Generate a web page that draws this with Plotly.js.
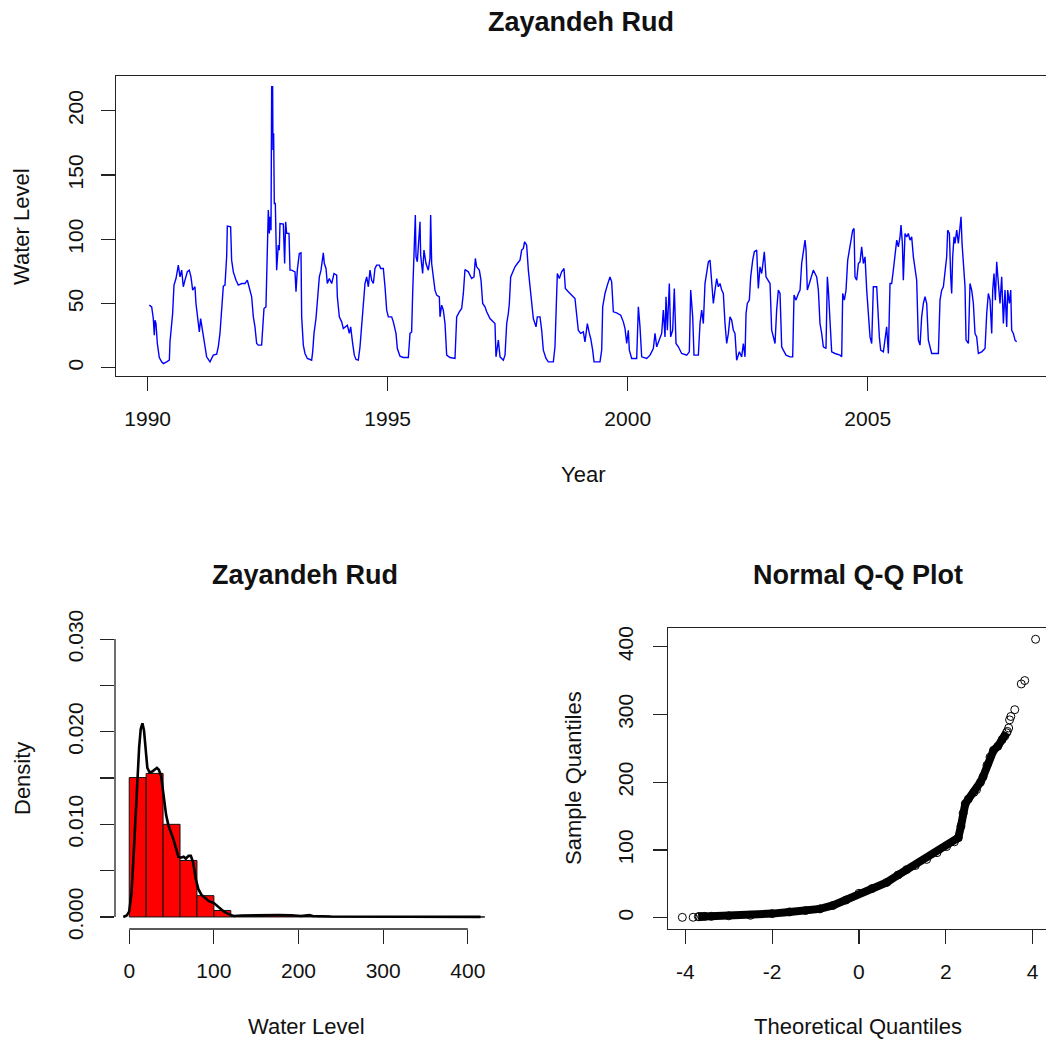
<!DOCTYPE html>
<html>
<head>
<meta charset="utf-8">
<script src="https://cdn.plot.ly/plotly-3.0.1.min.js"></script>
<style>html,body{margin:0;padding:0;background:#fff;}#chart{width:1046px;height:1041px;}</style>
</head>
<body>
<div id="chart"></div>
<script>
// ---------- Time series ----------
const tsYear = [
1990.034,1990.083,1990.117,1990.138,1990.152,1990.173,1990.201,1990.242,1990.291,1990.326,1990.395,1990.451,1990.465,1990.499,1990.520,1990.548,1990.590,1990.638,1990.673,1990.708,1990.742,1990.777,1990.826,1990.867,1990.902,1990.937,1990.985,
1991.006,1991.034,1991.076,1991.103,1991.145,1991.194,1991.228,1991.298,1991.367,1991.437,1991.471,1991.506,1991.541,1991.576,1991.610,1991.645,1991.659,1991.728,1991.749,1991.784,1991.840,1991.888,1991.958,
1992.027,1992.076,1992.117,1992.166,1992.201,1992.235,1992.270,1992.305,1992.374,1992.395,1992.423,1992.464,1992.478,1992.513,1992.534,1992.548,1992.569,1992.583,1992.603,1992.610,1992.624,1992.638,1992.659,1992.673,1992.687,1992.721,1992.742,1992.756,1992.826,1992.853,1992.874,1992.895,1992.944,1992.965,1992.999,
1993.069,1993.090,1993.117,1993.159,1993.194,1993.208,1993.242,1993.277,1993.326,1993.416,1993.437,1993.465,1993.506,1993.541,1993.576,1993.611,1993.659,1993.680,1993.715,1993.742,1993.784,1993.833,1993.881,1993.937,1993.951,1993.992,
1994.041,1994.076,1994.110,1994.159,1994.201,1994.229,1994.270,1994.305,1994.340,1994.388,1994.423,1994.458,1994.506,1994.527,1994.562,1994.597,1994.631,1994.666,1994.701,1994.735,1994.770,1994.826,1994.854,1994.909,1994.944,1994.979,
1995.013,1995.083,1995.117,1995.173,1995.201,1995.256,1995.326,1995.430,1995.465,1995.499,1995.520,1995.548,1995.576,1995.590,1995.617,1995.673,1995.687,1995.728,1995.756,1995.798,1995.846,1995.881,1995.895,1995.916,1995.951,1995.985,
1996.020,1996.076,1996.090,1996.124,1996.159,1996.194,1996.229,1996.298,1996.402,1996.437,1996.492,1996.541,1996.576,1996.610,1996.680,1996.749,1996.798,1996.826,1996.853,1996.909,1996.944,1996.979,
1997.027,1997.062,1997.131,1997.187,1997.235,1997.256,1997.305,1997.340,1997.409,1997.444,1997.479,1997.513,1997.534,1997.562,1997.617,1997.652,1997.701,1997.756,1997.791,1997.826,1997.853,1997.895,1997.930,1997.965,
1998.000,1998.034,1998.090,1998.117,1998.173,1998.208,1998.242,1998.298,1998.346,1998.451,1998.485,1998.506,1998.534,1998.576,1998.624,1998.673,1998.701,1998.763,1998.867,1998.902,1998.923,1998.971,
1999.020,1999.076,1999.110,1999.159,1999.201,1999.229,1999.270,1999.298,1999.423,1999.458,1999.479,1999.527,1999.576,1999.631,1999.666,1999.701,1999.770,1999.854,1999.909,1999.944,1999.979,
2000.013,2000.034,2000.083,2000.187,2000.222,2000.256,2000.291,2000.395,2000.465,2000.534,2000.569,2000.604,2000.659,2000.708,2000.742,2000.777,2000.798,2000.826,2000.867,2000.895,2000.937,2000.971,
2001.006,2001.055,2001.124,2001.229,2001.284,2001.312,2001.354,2001.381,2001.472,2001.506,2001.541,2001.576,2001.610,2001.645,2001.680,2001.715,2001.749,2001.784,2001.819,2001.854,2001.888,2001.923,2001.958,2001.992,
2002.027,2002.062,2002.097,2002.131,2002.166,2002.201,2002.235,2002.270,2002.326,2002.374,2002.409,2002.444,2002.465,2002.492,2002.534,2002.562,2002.604,2002.638,2002.687,2002.721,2002.756,2002.791,2002.826,2002.846,2002.881,2002.930,2002.965,2002.999,
2003.034,2003.069,2003.103,2003.138,2003.173,2003.208,2003.242,2003.298,2003.381,2003.437,2003.465,2003.506,2003.555,2003.590,2003.624,2003.659,2003.694,2003.715,2003.742,2003.784,2003.833,2003.867,2003.902,2003.937,2003.972,
2004.006,2004.041,2004.076,2004.131,2004.159,2004.180,2004.215,2004.249,2004.319,2004.423,2004.458,2004.479,2004.513,2004.548,2004.583,2004.617,2004.652,2004.687,2004.715,2004.735,2004.770,2004.805,2004.840,2004.874,2004.909,2004.944,2004.979,
2005.013,2005.048,2005.083,2005.117,2005.187,2005.222,2005.242,2005.270,2005.326,2005.395,2005.430,2005.465,2005.499,2005.534,2005.569,2005.604,2005.638,2005.673,2005.694,2005.722,2005.742,2005.777,2005.812,2005.846,2005.881,2005.916,2005.951,2005.985,
2006.020,2006.055,2006.090,2006.124,2006.159,2006.194,2006.229,2006.263,2006.298,2006.333,2006.402,2006.472,2006.506,2006.541,2006.576,2006.610,2006.645,2006.666,2006.701,2006.729,2006.749,2006.770,2006.798,2006.819,2006.854,2006.888,2006.923,2006.944,2006.965,2006.992,
2007.027,2007.048,2007.097,2007.131,2007.166,2007.201,2007.235,2007.270,2007.305,2007.374,2007.444,2007.479,2007.513,2007.548,2007.583,2007.604,2007.631,2007.659,2007.687,2007.722,2007.756,2007.791,2007.826,2007.860,2007.895,2007.916,2007.951,2007.979,2007.999,
2008.034,2008.069,2008.103
];
const tsLevel = [
48.8,47.5,38.4,25.4,37.1,34.5,19.0,8.1,4.7,3.4,4.7,6.0,20.3,34.5,42.3,64.4,69.5,79.9,70.8,76.0,63.1,68.3,74.8,76.0,70.8,60.5,63.1,
50.1,39.7,28.0,38.4,29.3,17.7,8.6,4.7,9.9,10.7,16.4,26.8,44.9,63.6,64.4,86.4,110.3,109.7,83.8,74.7,68.2,64.4,65.6,
65.6,68.2,63.1,55.3,39.7,31.9,19.0,17.7,17.7,28.0,46.2,47.5,77.3,122.7,104.6,117.5,107.1,218.7,218.7,169.4,182.4,127.9,127.9,101.9,76.0,95.5,91.6,112.3,111.8,81.2,113.6,104.6,104.6,76.0,76.0,
74.7,59.2,76.0,89.0,89.5,39.7,17.7,11.2,7.3,6.0,12.5,26.8,38.4,52.7,70.8,76.0,89.5,81.2,77.3,65.6,69.5,65.6,73.4,72.1,55.3,39.7,
35.8,30.6,31.9,33.2,26.8,31.9,19.0,9.9,6.5,6.0,16.4,33.2,59.2,65.6,70.8,63.1,76.0,68.2,65.6,77.3,79.9,79.9,77.3,77.3,63.1,44.9,
39.7,39.7,35.8,26.8,15.1,9.1,8.1,8.1,26.8,28.0,57.9,83.8,118.8,86.4,82.5,113.6,87.7,73.4,91.6,81.2,76.0,85.1,118.8,81.2,68.2,60.5,
56.6,55.3,39.7,48.8,44.9,34.5,9.9,8.1,7.3,39.7,43.6,46.2,57.9,76.5,74.7,69.5,70.8,85.1,78.6,76.0,68.2,50.1,
47.5,43.6,38.4,35.8,34.5,8.6,21.6,8.6,6.0,9.9,34.5,42.3,50.1,70.8,76.0,78.6,81.2,83.8,91.6,92.9,98.1,95.5,76.0,63.1,
47.5,38.4,31.9,39.7,39.7,29.3,13.8,7.3,4.7,4.7,16.4,37.1,73.4,69.5,74.7,77.3,61.8,59.2,55.3,54.0,46.2,29.3,
26.8,28.0,20.3,34.5,26.8,22.9,13.8,4.7,4.7,13.8,47.5,57.9,64.4,70.8,66.9,43.6,42.8,41.0,35.8,30.6,19.0,
29.3,13.8,7.3,7.3,47.5,31.9,8.6,7.3,9.9,15.1,26.8,16.4,21.6,26.8,44.9,24.1,55.3,29.3,65.6,24.1,29.3,61.8,
19.0,16.4,11.2,9.9,12.5,60.5,39.7,9.9,9.9,34.5,44.9,34.5,65.6,76.0,82.5,83.8,65.6,50.1,60.5,69.5,63.1,65.6,60.5,57.9,
34.5,19.0,26.8,39.7,37.1,29.3,26.8,6.0,12.5,8.6,19.0,8.6,42.3,50.1,52.7,70.8,83.8,90.3,91.6,61.8,78.6,73.4,83.8,90.3,70.8,68.2,65.6,29.3,
24.1,19.0,44.9,60.5,57.9,16.4,13.8,9.9,8.6,8.6,56.6,52.7,57.9,60.5,81.2,91.6,99.4,91.6,60.5,65.6,70.8,76.0,73.4,70.8,60.5,
34.5,26.8,16.4,15.1,70.8,60.5,34.5,12.5,11.2,9.9,8.6,57.9,52.7,60.5,83.8,91.6,101.9,107.1,108.4,70.8,68.2,81.2,82.5,94.2,81.2,86.4,60.5,
39.7,24.1,19.0,63.1,63.1,37.1,24.1,13.8,12.5,31.9,11.2,65.6,65.6,76.0,86.4,99.4,94.2,101.9,111.0,96.8,68.2,104.5,101.9,104.5,99.4,101.9,86.4,76.0,
68.2,21.6,17.7,39.7,50.1,55.3,50.1,21.6,16.4,11.2,11.2,11.2,52.7,60.5,63.1,76.0,86.4,107.1,104.5,70.8,57.9,86.4,101.9,96.8,107.1,96.8,107.1,117.5,96.8,81.2,
63.1,21.6,19.0,65.6,60.5,50.1,26.8,24.1,11.2,12.5,15.1,42.3,57.9,52.7,26.8,60.5,73.4,52.7,82.5,65.6,50.1,70.8,34.5,60.5,31.9,60.5,50.1,60.5,29.3,
26.8,21.6,20.3
];
const tsYearTicks = [1990, 1995, 2000, 2005];
const tsLevelTicks = [0, 50, 100, 150, 200];

// ---------- Histogram (density scale) ----------
const histBinStart = [0,20,40,60,80,100,120,140,160,180,200,220,240,260,280,300,320,340,360,380,400];
const histBinWidth = 20;
const histDensity = [0.01505,0.0155,0.0100,0.0061,0.0023,0.0007,0.00008,0.00008,0.00015,0.0001,0.00008,0.00006,0.00003,0.00002,0.00001,0.00001,0.000005,0.000005,0.000005,0.000002,0.000002];
const densX = [-7,-3,0,2.7,5.4,7.8,9.7,11.7,13.6,15.6,17.5,19.5,21.4,24.1,27.2,29.9,32.7,35,37.7,40.5,43.6,46.3,49.4,52.5,55.3,58,61.1,64.2,66.9,70,72.8,75.5,78.6,81.7,85.2,89.5,94.2,100,105.8,111.7,117.5,123.3,133,144.7,160.3,175.9,191.4,203,212.8,216.7,238,277,316,355,415];
const densY = [0,0.00015,0.0006,0.0026,0.0070,0.0114,0.0150,0.0183,0.0203,0.0209,0.0201,0.0183,0.0161,0.0156,0.0157,0.0159,0.0161,0.0159,0.0152,0.0132,0.0110,0.0099,0.0092,0.0083,0.0074,0.0065,0.0064,0.0065,0.0063,0.0066,0.0066,0.0059,0.0041,0.0030,0.0024,0.0021,0.0017,0.0015,0.0010,0.0006,0.0003,0.0001,0.00015,0.00018,0.00018,0.0002,0.00018,0.0001,0.0002,0.0001,0.00005,0.00003,0.00002,0.00001,0.00001];
const histXTicks = [0, 100, 200, 300, 400];
const histYTicks = [0, 0.005, 0.010, 0.015, 0.020, 0.025, 0.030];
const histYTickText = ['0.000', '', '0.010', '', '0.020', '', '0.030'];

// ---------- Normal Q-Q ----------
const qqBandTheo = [-3.7,-3.4,-3.0,-2.5,-2.0,-1.6,-1.23,-0.9,-0.6,-0.3,0.0,0.3,0.64,0.9,1.1,1.3,1.56,1.8,2.02,2.2,2.29,2.35,2.4,2.45,2.52,2.65,2.71,2.8,2.86,2.95,3.02,3.1,3.2,3.3,3.4];
const qqBandSample = [1.5,2,2.8,3.5,6.0,8.5,10.5,13,18,26,36,43,52,63,71,77,86,96,105,112,118,135,154,168,175,185,189,200,208,225,237,247,253,263,273];
const qqTailTheo = [-4.07,-3.82,-3.68,-3.62,-3.55,3.36,3.42,3.45,3.47,3.5,3.59,3.74,3.82,4.07];
const qqTailSample = [0.5,0.6,1.5,1.8,2.0,268,275,280,292,297,307,345,350,411];
const qqXTicks = [-4, -2, 0, 2, 4];
const qqXTickText = ['-4', '-2', '0', '2', '4'];
const qqYTicks = [0, 100, 200, 300, 400];

// ---------- Layout helpers ----------
const W = 1046, H = 1041;
const px = v => v / W;
const py = v => 1 - v / H;
const FONT = 'Liberation Sans, Arial, sans-serif';
const axisCol = '#222';
const tickFont = {family: FONT, size: 21, color: '#111'};

const histCenters = histBinStart.map(s => s + histBinWidth / 2);

const traces = [
  {type: 'scatter', mode: 'lines', x: tsYear, y: tsLevel, xaxis: 'x', yaxis: 'y',
   line: {color: '#0000ff', width: 1.4}, hoverinfo: 'skip'},
  {type: 'bar', x: histCenters, y: histDensity, width: histBinWidth, xaxis: 'x2', yaxis: 'y2',
   marker: {color: '#ff0000', line: {color: '#111', width: 1}}, hoverinfo: 'skip'},
  {type: 'scatter', mode: 'lines', x: densX, y: densY, xaxis: 'x2', yaxis: 'y2',
   line: {color: '#000', width: 2.6}, hoverinfo: 'skip'},
  {type: 'scatter', mode: 'lines+markers', x: qqBandTheo, y: qqBandSample, xaxis: 'x3', yaxis: 'y3',
   line: {color: '#000', width: 8}, marker: {symbol: 'circle-open', size: 8, color: '#000', line: {width: 1}}, hoverinfo: 'skip'},
  {type: 'scatter', mode: 'markers', x: qqTailTheo, y: qqTailSample, xaxis: 'x3', yaxis: 'y3',
   marker: {symbol: 'circle-open', size: 8, color: '#000', line: {width: 1}}, hoverinfo: 'skip'}
];

const commonAxis = {
  showgrid: false, zeroline: false, ticks: 'outside', ticklen: 14, tickwidth: 1.2,
  tickcolor: axisCol, linecolor: axisCol, linewidth: 1.3, tickfont: tickFont, fixedrange: true
};

const yDomTop = [py(376), py(76)];
const yDomBot = [py(929), py(628)];

const layout = {
  width: W, height: H, margin: {l: 0, r: 0, t: 0, b: 0},
  paper_bgcolor: '#fff', plot_bgcolor: '#fff', showlegend: false,
  font: {family: FONT, color: '#111'},
  bargap: 0,
  xaxis: Object.assign({}, commonAxis, {domain: [px(116), 1], range: [1989.34, 2008.714], anchor: 'y',
    tickmode: 'array', tickvals: tsYearTicks, showline: true, mirror: true, ticklabelstandoff: 9}),
  yaxis: Object.assign({}, commonAxis, {domain: yDomTop, range: [-6.3, 227], anchor: 'x',
    tickmode: 'array', tickvals: tsLevelTicks, tickangle: -90, showline: true, ticklabelstandoff: 9}),
  xaxis2: Object.assign({}, commonAxis, {domain: [px(115), px(499)], range: [-16.8, 436.8], anchor: 'y2',
    tickmode: 'array', tickvals: histXTicks, showline: false, ticklabelstandoff: 9}),
  yaxis2: Object.assign({}, commonAxis, {domain: yDomBot, range: [-0.0013, 0.0312], anchor: 'x2',
    tickmode: 'array', tickvals: histYTicks, ticktext: histYTickText, tickangle: -90, showline: false, ticklabelstandoff: 9}),
  xaxis3: Object.assign({}, commonAxis, {domain: [px(668), 1], range: [-4.4, 4.31], anchor: 'y3',
    tickmode: 'array', tickvals: qqXTicks, ticktext: qqXTickText, showline: true, mirror: true, ticklabelstandoff: 9}),
  yaxis3: Object.assign({}, commonAxis, {domain: yDomBot, range: [-16.7, 427.6], anchor: 'x3',
    tickmode: 'array', tickvals: qqYTicks, tickangle: -90, showline: true, ticklabelstandoff: 11}),
  shapes: [
    {type: 'line', xref: 'x2', yref: 'paper', x0: histXTicks[0], x1: histXTicks[histXTicks.length - 1],
     y0: yDomBot[0], y1: yDomBot[0], line: {color: axisCol, width: 1.3}},
    {type: 'line', xref: 'paper', yref: 'y2', x0: px(115), x1: px(115),
     y0: histYTicks[0], y1: histYTicks[histYTicks.length - 1], line: {color: axisCol, width: 1.3}}
  ],
  annotations: [
    {text: '<b>Zayandeh Rud</b>', x: px(581), y: py(22), font: {size: 27}},
    {text: 'Year', x: px(583), y: py(474), font: {size: 22}},
    {text: 'Water Level', x: px(21), y: py(227), textangle: -90, font: {size: 22}},
    {text: '<b>Zayandeh Rud</b>', x: px(305), y: py(575), font: {size: 27}},
    {text: 'Density', x: px(22), y: py(779), textangle: -90, font: {size: 22}},
    {text: 'Water Level', x: px(306), y: py(1026), font: {size: 22}},
    {text: '<b>Normal Q-Q Plot</b>', x: px(858), y: py(575), font: {size: 27}},
    {text: 'Sample Quantiles', x: px(573), y: py(778), textangle: -90, font: {size: 22}},
    {text: 'Theoretical Quantiles', x: px(858), y: py(1026), font: {size: 22}}
  ].map(a => Object.assign({xref: 'paper', yref: 'paper', showarrow: false, xanchor: 'center', yanchor: 'middle'}, a))
};

Plotly.newPlot('chart', traces, layout, {staticPlot: true, displayModeBar: false});
</script>
</body>
</html>
